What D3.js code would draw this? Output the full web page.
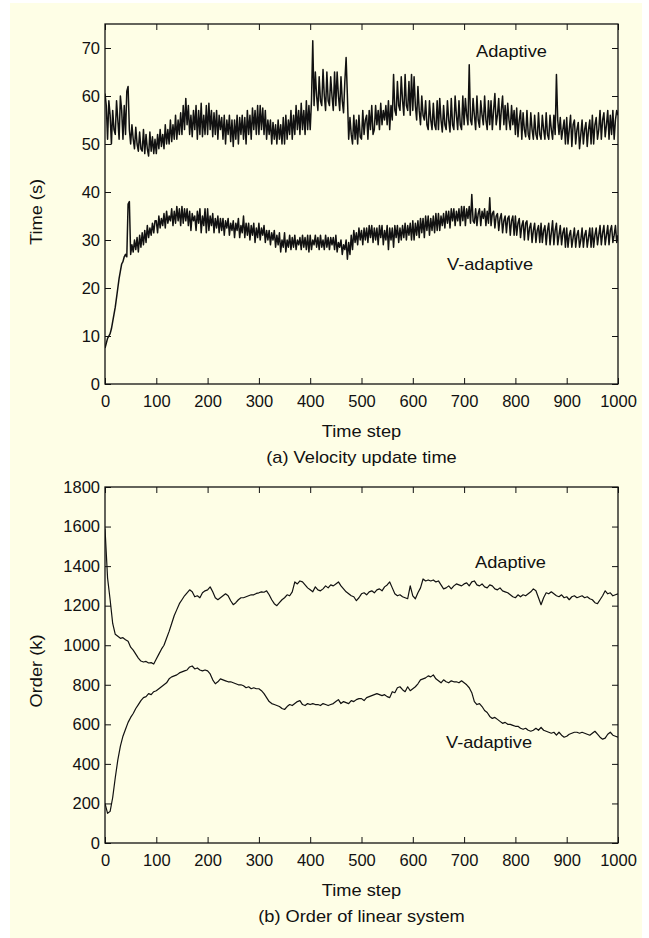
<!DOCTYPE html>
<html lang="en">
<head>
  <meta charset="UTF-8">
  <script src="https://d3js.org/d3.v7.min.js"></script>
  <style>
    body {
      margin: 0;
      background: #fff;
    }

    svg {
      display: block;
      font-family: "Liberation Sans", Arial, sans-serif;
    }

    .tick text {
      font-size: 16.5px;
      fill: #111;
    }

    .tick line {
      stroke: #111;
    }

    .series {
      fill: none;
      stroke: #111;
      stroke-linejoin: round;
    }

    .word {
      font-size: 16px;
      fill: #111;
    }
  </style>
</head>
<body>
  <div id="chart"></div>

  <script>
    // (a) is read every 2.5 time steps, (b) every 5
    var velStep = 2.5;
    var orderStep = 5;

    var timeTicks = [0, 100, 200, 300, 400, 500, 600, 700, 800, 900, 1000];
    var velTicks = [0, 10, 20, 30, 40, 50, 60, 70];
    var orderTicks = [0, 200, 400, 600, 800, 1000, 1200, 1400, 1600, 1800];

    // (a) velocity update time, seconds
    var velAdaptive = [
      60.5, 58, 51, 59, 56, 50, 57, 53, 52, 59, 55, 51, 60, 57, 51, 58, 52, 61, 62, 53,
      50, 54, 51, 49, 53.5, 50, 48.5, 52.5, 49, 48.5, 53, 48, 52, 49, 47.5, 52.5, 48.5, 51.5, 48, 51,
      48, 52, 49, 53, 49.5, 52, 49, 54, 50, 53, 50, 55, 50.5, 54, 51, 56, 51, 55, 52, 56.5,
      52, 58, 53, 59.5, 54, 58, 52, 56, 51.5, 57, 53, 58, 51, 57, 52, 58.5, 51.5, 56, 52, 58,
      52, 58.5, 53, 57, 51.5, 56.5, 52, 57, 51, 56, 53, 55.5, 51, 56, 50, 55, 52, 56, 50.5, 55,
      49.5, 55, 51, 56, 50, 55.5, 52, 56, 51, 55.5, 50, 57, 52, 56, 51, 57.5, 53, 57, 52, 58,
      52, 58, 53, 57.5, 52, 57, 51, 55, 52, 55, 50, 54.5, 51, 54, 50, 55, 51, 54, 50, 55.5,
      50, 56, 51, 55, 52, 57, 51, 56, 52, 58, 53, 57, 52, 58.5, 53, 57, 52, 59, 53, 58,
      53, 59, 71.5, 58, 65, 60, 57, 64, 59, 58, 65.5, 60, 57, 65, 59, 58, 64, 60, 57, 65,
      58, 65, 60, 57, 64, 59, 56.5, 63, 68, 60, 51, 55.5, 52, 50, 56, 51, 55, 50, 56, 51.5,
      51, 57, 52, 55, 56, 51, 57, 53, 58, 52, 53, 58, 54, 57, 53, 58.5, 54, 57, 55, 58,
      54, 59, 53, 58, 55, 64.5, 57, 56, 63, 58, 57, 64, 59, 56, 64.5, 58, 57, 63, 56, 64.5,
      57, 64, 58, 55, 62, 57, 54, 60, 56, 55, 59, 54, 53, 59, 55, 53, 58.5, 54, 53, 59,
      53, 59.5, 55, 52.5, 58, 54, 53, 59, 55, 52.5, 59.5, 54, 53, 60, 56, 53, 59, 54, 53, 60,
      54, 59.5, 56, 54, 66.5, 55, 54, 59.5, 56, 53, 60, 55, 53.5, 59, 56, 54, 60, 55, 53, 59,
      54, 59, 53, 57, 60.5, 54, 56, 59.5, 53, 57, 60, 54, 58, 53, 58.5, 55, 53, 58, 54, 57,
      52, 57.5, 51.5, 55, 57, 51, 56.5, 53, 51.5, 57, 52, 51, 56.5, 53, 51, 56, 52, 51, 56.5, 52,
      51, 56, 53, 51, 56.5, 52, 51, 56, 53, 51, 56, 52, 64.5, 55, 52, 55.5, 51, 53, 55, 50,
      55.5, 50, 53, 56, 49.5, 54, 55, 50, 53, 54.5, 49, 52, 55, 50, 53, 54.5, 49.5, 53, 55, 50,
      56, 50, 54, 55.5, 51, 53, 57, 51, 55, 56.5, 51.5, 54, 57, 51, 56, 52, 57, 51, 55, 57,
      56
    ];
    var velVAdaptive = [
      7.5, 8.5, 9.5, 10, 10.5, 11.5, 13, 14.5, 16, 18, 20, 22, 23.5, 25, 25.5, 26.5, 27, 26.5, 37.5, 38,
      27, 29, 27.5, 30, 28, 30.5, 27.5, 31, 28.5, 31.5, 29, 32, 29.5, 33, 30.5, 32.5, 31, 33.5, 31.5, 34,
      34, 31.5, 35, 32.5, 34.5, 33, 35.5, 32.5, 36, 33.5, 35, 34, 36.5, 33, 36, 33.5, 37, 34, 36.5, 33,
      37, 33.5, 36.5, 34, 36.5, 33, 36, 32, 35.5, 34, 35, 32, 36, 33.5, 36.5, 31.5, 35, 33, 36.5, 31.5,
      36.5, 32, 35, 33, 35.5, 31.5, 34.5, 32.5, 35, 31.5, 34.5, 32, 34.5, 31, 34, 32.5, 34.5, 31, 33.5, 32,
      34, 30.5, 33.5, 32, 34.5, 30.5, 33, 31.5, 35, 30.5, 33.5, 31, 33.5, 30, 33, 31, 33.5, 29.5, 32.5, 30.5,
      33.5, 30, 32.5, 31, 33, 29.5, 32, 30, 32, 29, 31.5, 30, 32, 28.5, 31, 29, 31.5, 27.5, 30, 28.5,
      31.5, 27.5, 30, 28.5, 31, 28, 30.5, 28.5, 31, 28, 30, 29, 30.5, 28, 31, 28.5, 30.5, 28, 31, 27.5,
      31, 28, 30, 29, 31, 28.5, 30.5, 28, 31, 28.5, 30, 28, 31, 28.5, 30.5, 28, 30.5, 29, 30.5, 28,
      31, 27.5, 29.5, 28.5, 30, 27, 29, 28, 30, 26, 29.5, 27, 31, 28, 32, 29.5, 31.5, 29, 32.5, 30,
      32, 29, 32.5, 30, 32.5, 29.5, 33, 30.5, 33, 29.5, 32.5, 30, 32.5, 29, 33, 30.5, 33, 29, 32, 30,
      33, 28, 32.5, 30, 32.5, 28.5, 33, 30.5, 33, 29.5, 32.5, 30, 33, 30.5, 33.5, 30, 33, 31, 33.5, 30,
      34, 30, 33.5, 31, 34, 30.5, 34.5, 31.5, 34.5, 30.5, 35, 32, 35, 31, 34.5, 32, 35, 31.5, 35.5, 32,
      35.5, 32, 35, 33, 35.5, 32.5, 36, 33.5, 36, 32.5, 36.5, 34, 36.5, 33, 36, 34, 36.5, 33, 37, 34,
      37, 33, 36.5, 34.5, 37, 33.5, 39.5, 34, 33.5, 36.5, 33, 35.5, 36.5, 33, 36, 34.5, 36.5, 33, 36, 33.5,
      38.8, 33, 35.5, 36, 32.5, 35, 35.5, 32, 34.5, 35.5, 31.5, 34, 35, 31.5, 34.5, 35, 31, 34, 35, 31,
      35, 31, 33.5, 34.5, 30.5, 33, 34, 30, 33.5, 34, 30, 32.5, 33.5, 29.5, 32, 33.5, 29.5, 32, 33, 29.5,
      33.5, 29.5, 32, 33, 29, 32, 33.5, 29, 31.5, 34, 29, 32, 33.5, 29, 31, 33, 29, 31.5, 32.5, 28.5,
      32.5, 28.5, 31, 32, 28.5, 30.5, 32.5, 28.5, 31, 32, 28.5, 30, 32.5, 28.5, 31, 32, 28.5, 30.5, 32.5, 28.5,
      32.5, 28.5, 31, 32.5, 29, 31, 33, 29, 31.5, 33, 29, 31, 33, 29, 32, 33, 29.5, 31, 33, 29.5,
      31
    ];

    // (b) order of linear system, k
    var orderAdaptive = [
      1590, 1340, 1230, 1110, 1055, 1045, 1035, 1038, 1028, 1020,
      990, 975, 955, 935, 920, 915, 918, 910, 912, 905,
      930, 955, 980, 1000, 1035, 1070, 1110, 1150, 1180, 1210,
      1230, 1250, 1265, 1280, 1270, 1245, 1250, 1240, 1265, 1275,
      1280, 1295, 1270, 1240, 1230, 1240, 1250, 1260, 1250, 1225,
      1205, 1215, 1230, 1240, 1240, 1245, 1250, 1255, 1255, 1262,
      1265, 1270, 1268, 1275, 1255, 1230, 1210, 1200, 1215, 1230,
      1240, 1255, 1250, 1270, 1320, 1310, 1325, 1320, 1305, 1290,
      1280, 1270, 1295, 1280, 1275, 1285, 1300, 1290, 1305, 1300,
      1310, 1320, 1300, 1285, 1270, 1260, 1250, 1245, 1225, 1240,
      1260, 1265, 1255, 1270, 1275, 1265, 1280, 1285, 1275, 1295,
      1305, 1320, 1290, 1260, 1250, 1255, 1245, 1240, 1235, 1300,
      1250, 1235, 1265, 1290, 1335, 1325, 1330, 1325, 1330, 1320,
      1325, 1305, 1285, 1290, 1300, 1285, 1300, 1310, 1305, 1300,
      1310, 1315, 1300, 1320, 1325, 1305, 1300, 1310, 1295, 1290,
      1305, 1300, 1285, 1280, 1290, 1275, 1270, 1265, 1255, 1245,
      1240, 1255, 1245, 1255, 1250, 1260, 1270, 1285, 1275, 1240,
      1205, 1240, 1265, 1260, 1270, 1260, 1250, 1245, 1255, 1240,
      1245, 1230, 1245, 1250, 1240, 1245, 1250, 1240, 1245, 1235,
      1230, 1215, 1210, 1230, 1250, 1275, 1260, 1265, 1250, 1255,
      1260
    ];
    var orderVAdaptive = [
      200, 150, 160, 230, 330, 420, 490, 540, 575, 610,
      635, 655, 680, 700, 720, 735, 740, 755, 750, 765,
      770, 780, 790, 800, 810, 830, 840, 845, 850, 860,
      865, 870, 875, 890, 895, 880, 885, 875, 870, 875,
      870, 855, 825, 805, 815, 830, 825, 820, 815, 815,
      810, 805, 800, 800, 795, 785, 790, 780, 785, 780,
      780, 770, 755, 735, 715, 705, 700, 695, 690, 680,
      675, 690, 700, 695, 705, 715, 720, 700, 695, 705,
      700, 705, 700, 700, 695, 705, 700, 695, 700, 705,
      715, 725, 705, 715, 710, 705, 720, 715, 725, 730,
      730, 720, 735, 740, 745, 750, 755, 750, 745, 750,
      740, 735, 765, 760, 785, 790, 775, 765, 790, 770,
      780, 790, 805, 825, 830, 835, 845, 840, 850, 830,
      820, 810, 825, 815, 810, 820, 815, 815, 810, 820,
      810, 800, 785, 760, 715, 700, 705, 690, 670, 660,
      640, 630, 635, 625, 615, 605, 610, 600, 600, 595,
      590, 590, 580, 575, 580, 570, 565, 570, 580, 570,
      585, 570, 565, 560, 555, 560, 545, 560, 545, 535,
      540, 550, 555, 560, 560, 555, 560, 555, 550, 545,
      555, 565, 550, 535, 525, 530, 550, 560, 545, 540,
      535
    ];

    var width = 649;
    var height = 938;
    var left = 105, right = 618;
    var stretch = 1.14; // the source lettering is a bit wider than Arial

    var svg = d3.select("#chart")
      .append("svg")
      .attr("width", width)
      .attr("height", height);

    svg.append("rect")
      .attr("x", 10)
      .attr("y", 3)
      .attr("width", 632)
      .attr("height", 935)
      .attr("fill", "#fefee6");

    function word(parent, x, y, txt, anchor, rotate) {
      var t = "translate(" + x + "," + y + ")" + (rotate ? " rotate(-90)" : "") + " scale(" + stretch + ",1)";
      parent.append("text")
        .attr("class", "word")
        .attr("transform", t)
        .attr("text-anchor", anchor)
        .text(txt);
    }

    function panel(opt) {
      var x = d3.scaleLinear().domain([0, 1000]).range([left, right]);
      var y = d3.scaleLinear().domain([0, opt.yMax]).range([opt.bottom, opt.top]);
      var g = svg.append("g");

      g.append("clipPath").attr("id", opt.id)
        .append("rect")
        .attr("x", left).attr("y", opt.top)
        .attr("width", right - left).attr("height", opt.bottom - opt.top);

      // lines
      var line = d3.line()
        .x(function (d, i) { return x(i * opt.step); })
        .y(function (d) { return y(d); });

      opt.series.forEach(function (s) {
        g.append("path")
          .datum(s)
          .attr("class", "series")
          .attr("clip-path", "url(#" + opt.id + ")")
          .attr("stroke-width", opt.lineWidth)
          .attr("d", line);
      });

      // axes, ticks pointing inwards on all four sides
      var fmt = d3.format("d");
      var ax = [
        d3.axisBottom(x).tickValues(timeTicks).tickFormat(fmt).tickSizeInner(-6).tickSizeOuter(0).tickPadding(11),
        d3.axisTop(x).tickValues(timeTicks).tickSizeInner(-6).tickSizeOuter(0).tickFormat(""),
        d3.axisLeft(y).tickValues(opt.yTicks).tickFormat(fmt).tickSizeInner(-6).tickSizeOuter(0).tickPadding(5),
        d3.axisRight(y).tickValues(opt.yTicks).tickSizeInner(-6).tickSizeOuter(0).tickFormat("")
      ];
      var pos = [
        "translate(0," + opt.bottom + ")",
        "translate(0," + opt.top + ")",
        "translate(" + left + ",0)",
        "translate(" + right + ",0)"
      ];
      ax.forEach(function (a, i) {
        var ag = g.append("g").attr("transform", pos[i]).call(a);
        ag.select(".domain").remove();
        ag.selectAll("text").attr("font-family", null).attr("font-size", null);
      });
      g.selectAll(".tick line").attr("stroke-width", 1);

      g.append("rect")
        .attr("x", left).attr("y", opt.top)
        .attr("width", right - left).attr("height", opt.bottom - opt.top)
        .attr("fill", "none")
        .attr("stroke", "#111")
        .attr("stroke-width", 1.3);

      word(g, (left + right) / 2, opt.bottom + 53, "Time step", "middle");
      word(g, (left + right) / 2, opt.bottom + 79, opt.caption, "middle");
      word(g, 42, opt.labelY, opt.yLabel, "middle", true);
      opt.notes.forEach(function (n) {
        word(g, n[0], n[1], n[2], "start");
      });
    }

    panel({
      id: "clipA",
      top: 24,
      bottom: 384,
      yMax: 75,
      step: velStep,
      yTicks: velTicks,
      series: [velAdaptive, velVAdaptive],
      lineWidth: 1.5,
      yLabel: "Time (s)",
      labelY: 212,
      caption: "(a) Velocity update time",
      notes: [[476, 57, "Adaptive"], [447, 270, "V-adaptive"]]
    });

    panel({
      id: "clipB",
      top: 487,
      bottom: 843,
      yMax: 1800,
      step: orderStep,
      yTicks: orderTicks,
      series: [orderAdaptive, orderVAdaptive],
      lineWidth: 1.2,
      yLabel: "Order (k)",
      labelY: 671,
      caption: "(b) Order of linear system",
      notes: [[475, 568, "Adaptive"], [446, 748, "V-adaptive"]]
    });
  </script>
</body>
</html>
